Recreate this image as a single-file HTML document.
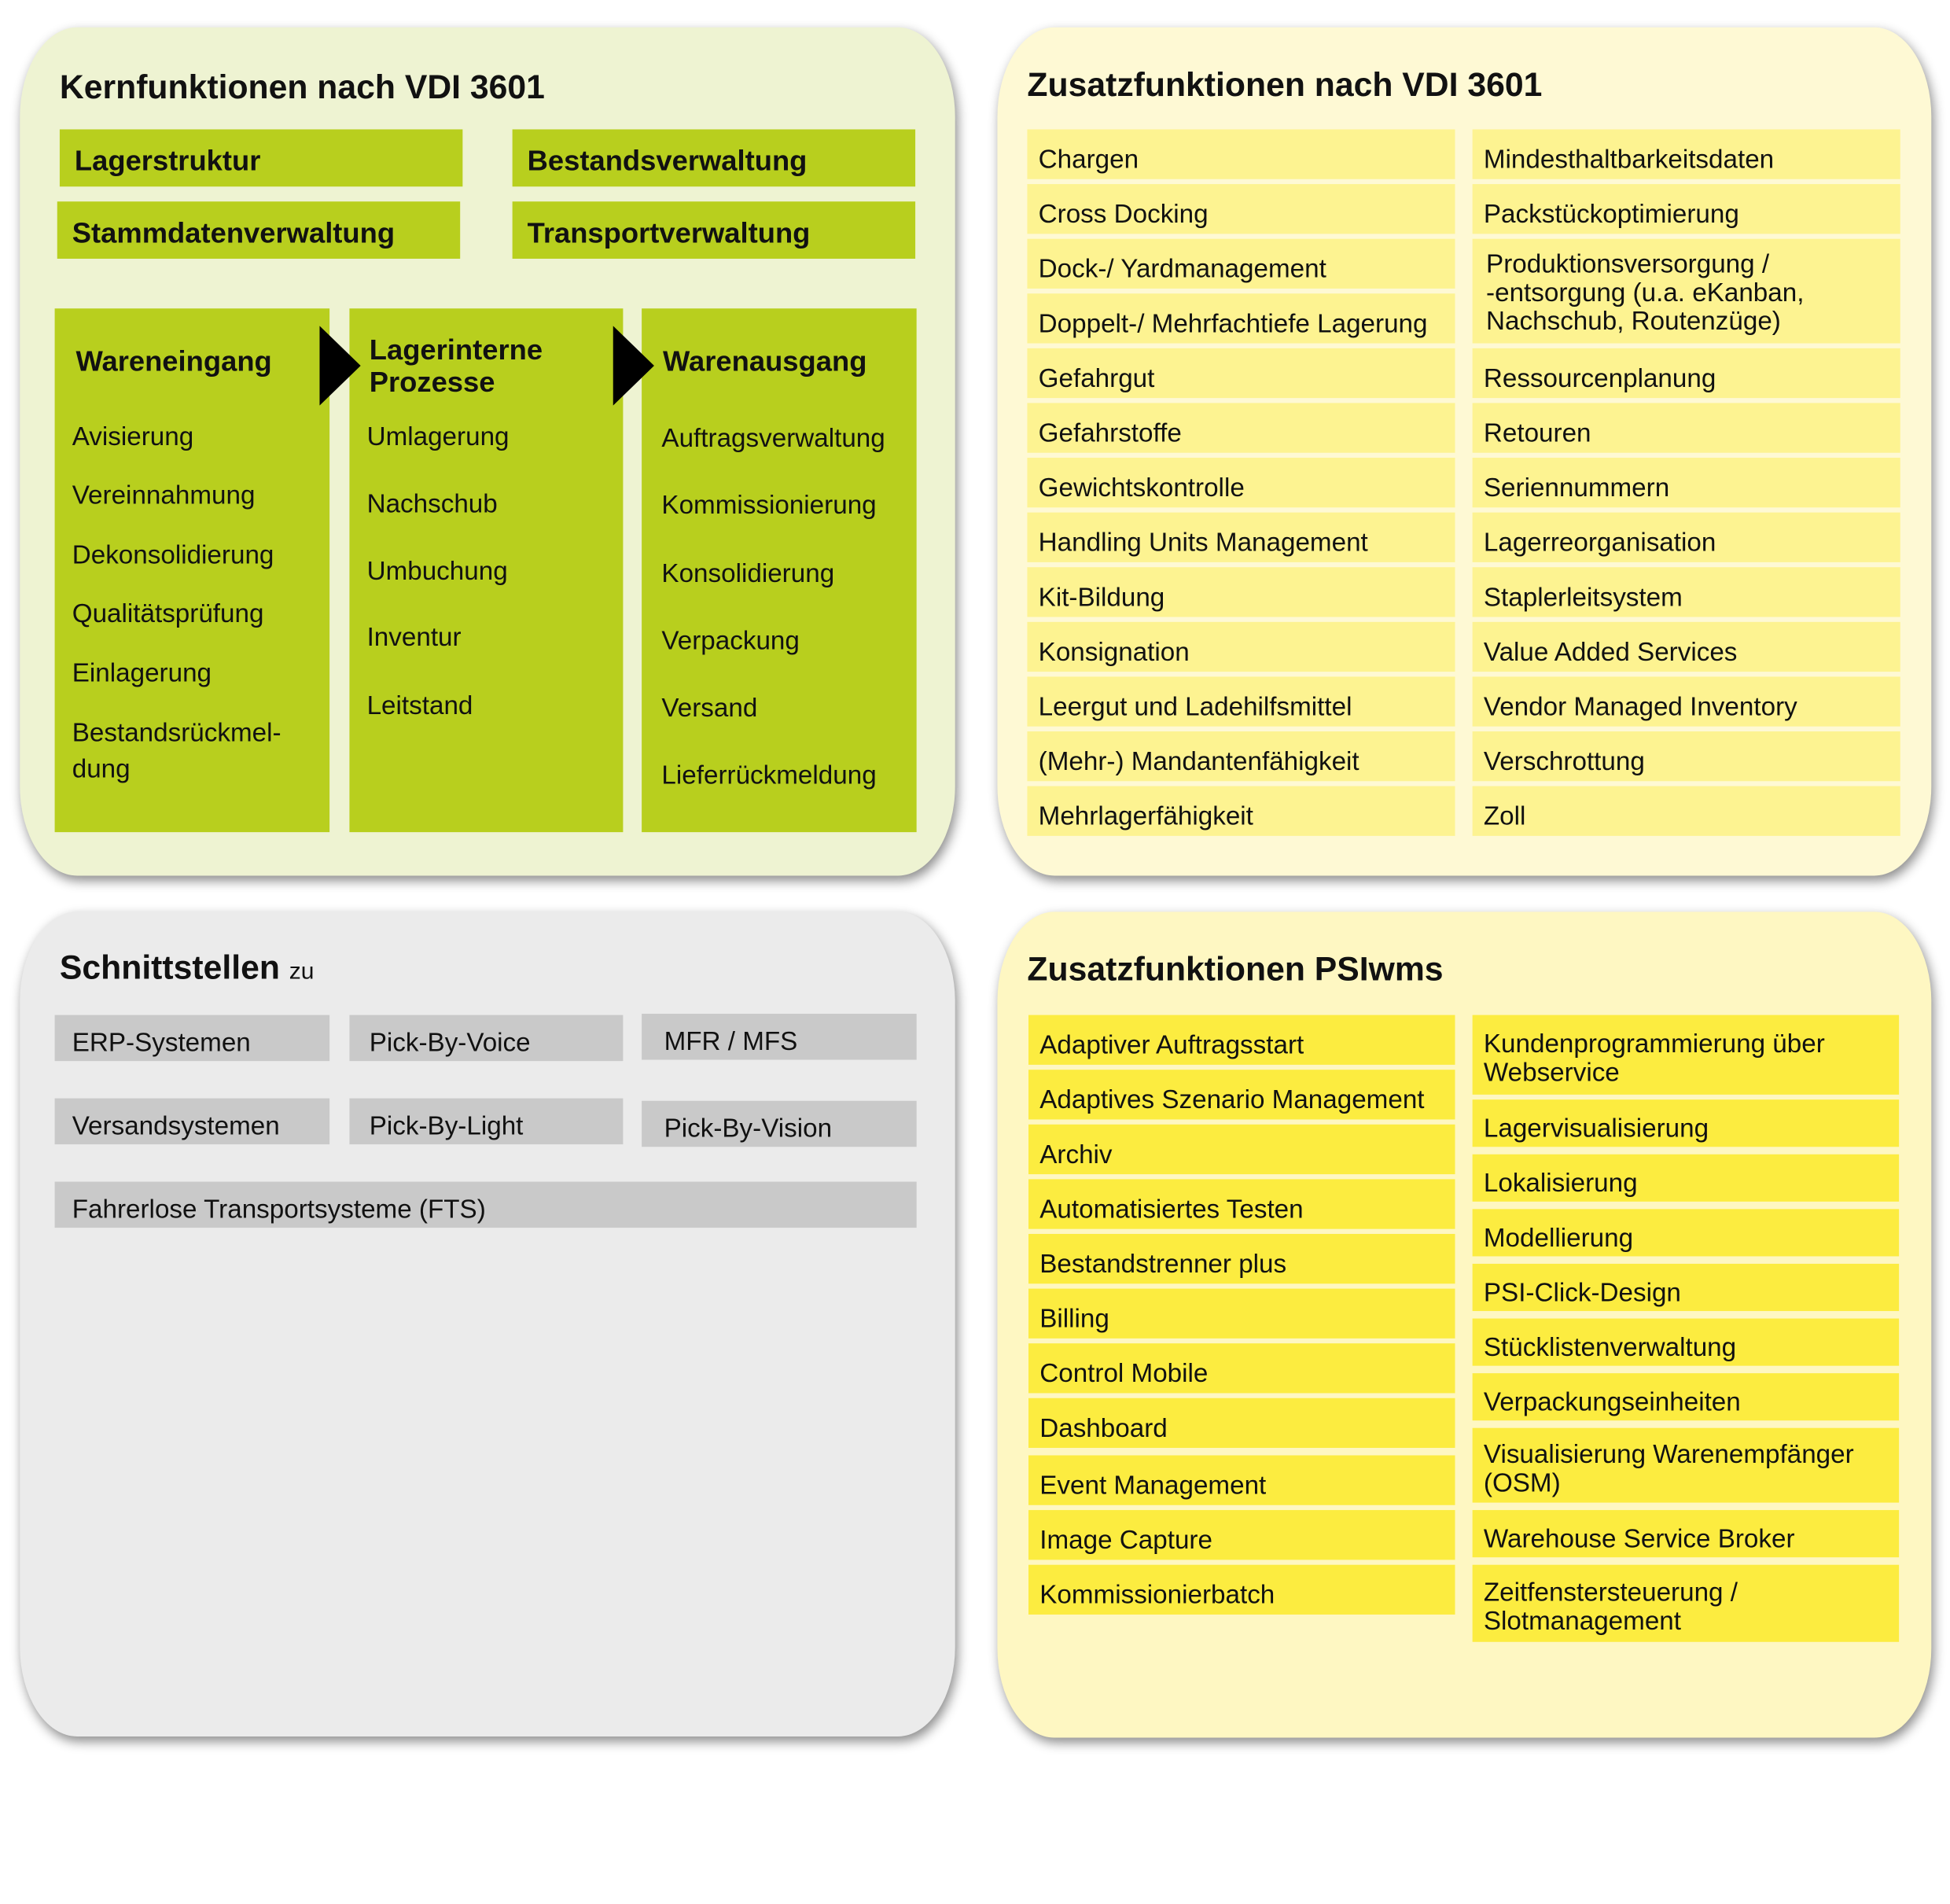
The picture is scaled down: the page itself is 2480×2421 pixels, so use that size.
<!DOCTYPE html>
<html><head><meta charset="utf-8"><style>
html,body{margin:0;padding:0;background:#fff;width:2480px;height:2421px;overflow:hidden}
#s{position:absolute;left:0;top:0;width:1568px;height:1531px;transform:scale(1.58163);transform-origin:0 0;font-family:"Liberation Sans",sans-serif;color:#111}
.p{position:absolute;border-radius:46px/72px;box-shadow:2px 4px 9px rgba(0,0,0,.45)}
.b{position:absolute;display:flex;align-items:center;box-sizing:border-box;padding-left:9px;padding-top:8px;font-size:21px;line-height:23px;white-space:nowrap}
.m{padding-top:2px}
.g{background:#b8cf1e;font-weight:bold;font-size:23px;padding-left:12px;padding-top:4px}
.y1{background:#fdf391}
.y2{background:#fcec40}
.gr{background:#c9c9c9;padding-left:14px}
.t{position:absolute;font-size:21px;line-height:23px;white-space:nowrap}
.h{position:absolute;font-size:27px;font-weight:bold;white-space:nowrap;line-height:30px}
.col{position:absolute;background:#b8cf1e;top:248px;height:421px}
.hb{font-weight:bold;font-size:23px}
.ar{position:absolute;width:0;height:0;border-top:32px solid transparent;border-bottom:32px solid transparent;border-left:33px solid #000}
</style></head><body><div id="s">
<!-- TL -->
<div class="p" style="left:16px;top:22px;width:752px;height:682px;background:#eef3d2"></div>
<div class="h" style="left:48px;top:55px">Kernfunktionen nach VDI 3601</div>
<div class="b g" style="left:48px;top:104px;width:324px;height:46px">Lagerstruktur</div>
<div class="b g" style="left:412px;top:104px;width:324px;height:46px">Bestandsverwaltung</div>
<div class="b g" style="left:46px;top:162px;width:324px;height:46px">Stammdatenverwaltung</div>
<div class="b g" style="left:412px;top:162px;width:324px;height:46px">Transportverwaltung</div>
<div class="col" style="left:44px;width:221px"></div>
<div class="col" style="left:281px;width:220px"></div>
<div class="col" style="left:516px;width:221px"></div>
<div class="ar" style="left:257px;top:262px"></div>
<div class="ar" style="left:493px;top:262px"></div>
<div class="t hb" style="left:61px;top:279px">Wareneingang</div>
<div class="t hb" style="left:297px;top:268px;line-height:26px">Lagerinterne<br>Prozesse</div>
<div class="t hb" style="left:533px;top:279px">Warenausgang</div>
<div class="t" style="left:58px;top:340px">Avisierung</div>
<div class="t" style="left:58px;top:387px">Vereinnahmung</div>
<div class="t" style="left:58px;top:435px">Dekonsolidierung</div>
<div class="t" style="left:58px;top:482px">Qualitätsprüfung</div>
<div class="t" style="left:58px;top:530px">Einlagerung</div>
<div class="t" style="left:58px;top:575px;line-height:29px">Bestandsrückmel-<br>dung</div>
<div class="t" style="left:295px;top:340px">Umlagerung</div>
<div class="t" style="left:295px;top:394px">Nachschub</div>
<div class="t" style="left:295px;top:448px">Umbuchung</div>
<div class="t" style="left:295px;top:501px">Inventur</div>
<div class="t" style="left:295px;top:556px">Leitstand</div>
<div class="t" style="left:532px;top:341px">Auftragsverwaltung</div>
<div class="t" style="left:532px;top:395px">Kommissionierung</div>
<div class="t" style="left:532px;top:450px">Konsolidierung</div>
<div class="t" style="left:532px;top:504px">Verpackung</div>
<div class="t" style="left:532px;top:558px">Versand</div>
<div class="t" style="left:532px;top:612px">Lieferrückmeldung</div>
<!-- TR -->
<div class="p" style="left:802px;top:22px;width:751px;height:682px;background:#fef9d4"></div>
<div class="h" style="left:826px;top:53px">Zusatzfunktionen nach VDI 3601</div>
<div class="b y1" style="left:826px;top:104px;width:344px;height:40px">Chargen</div>
<div class="b y1" style="left:826px;top:148px;width:344px;height:40px">Cross Docking</div>
<div class="b y1" style="left:826px;top:192px;width:344px;height:40px">Dock-/ Yardmanagement</div>
<div class="b y1" style="left:826px;top:236px;width:344px;height:40px">Doppelt-/ Mehrfachtiefe Lagerung</div>
<div class="b y1" style="left:826px;top:280px;width:344px;height:40px">Gefahrgut</div>
<div class="b y1" style="left:826px;top:324px;width:344px;height:40px">Gefahrstoffe</div>
<div class="b y1" style="left:826px;top:368px;width:344px;height:40px">Gewichtskontrolle</div>
<div class="b y1" style="left:826px;top:412px;width:344px;height:40px">Handling Units Management</div>
<div class="b y1" style="left:826px;top:456px;width:344px;height:40px">Kit-Bildung</div>
<div class="b y1" style="left:826px;top:500px;width:344px;height:40px">Konsignation</div>
<div class="b y1" style="left:826px;top:544px;width:344px;height:40px">Leergut und Ladehilfsmittel</div>
<div class="b y1" style="left:826px;top:588px;width:344px;height:40px">(Mehr-) Mandantenfähigkeit</div>
<div class="b y1" style="left:826px;top:632px;width:344px;height:40px">Mehrlagerfähigkeit</div>
<div class="b y1" style="left:1184px;top:104px;width:344px;height:40px">Mindesthaltbarkeitsdaten</div>
<div class="b y1" style="left:1184px;top:148px;width:344px;height:40px">Packstückoptimierung</div>
<div class="b y1 m" style="left:1184px;top:192px;width:344px;height:84px;padding-left:11px">Produktionsversorgung /<br>-entsorgung (u.a. eKanban,<br>Nachschub, Routenzüge)</div>
<div class="b y1" style="left:1184px;top:280px;width:344px;height:40px">Ressourcenplanung</div>
<div class="b y1" style="left:1184px;top:324px;width:344px;height:40px">Retouren</div>
<div class="b y1" style="left:1184px;top:368px;width:344px;height:40px">Seriennummern</div>
<div class="b y1" style="left:1184px;top:412px;width:344px;height:40px">Lagerreorganisation</div>
<div class="b y1" style="left:1184px;top:456px;width:344px;height:40px">Staplerleitsystem</div>
<div class="b y1" style="left:1184px;top:500px;width:344px;height:40px">Value Added Services</div>
<div class="b y1" style="left:1184px;top:544px;width:344px;height:40px">Vendor Managed Inventory</div>
<div class="b y1" style="left:1184px;top:588px;width:344px;height:40px">Verschrottung</div>
<div class="b y1" style="left:1184px;top:632px;width:344px;height:40px">Zoll</div>
<!-- BL -->
<div class="p" style="left:16px;top:733px;width:752px;height:663px;background:#ebebeb"></div>
<div class="h" style="left:48px;top:763px">Schnittstellen <span style="font-weight:normal;font-size:19px">zu</span></div>
<div class="b gr" style="left:44px;top:816px;width:221px;height:37px">ERP-Systemen</div>
<div class="b gr" style="left:281px;top:816px;width:220px;height:37px;padding-left:16px">Pick-By-Voice</div>
<div class="b gr" style="left:516px;top:815px;width:221px;height:37px;padding-left:18px">MFR / MFS</div>
<div class="b gr" style="left:44px;top:883px;width:221px;height:37px">Versandsystemen</div>
<div class="b gr" style="left:281px;top:883px;width:220px;height:37px;padding-left:16px">Pick-By-Light</div>
<div class="b gr" style="left:516px;top:885px;width:221px;height:37px;padding-left:18px">Pick-By-Vision</div>
<div class="b gr" style="left:44px;top:950px;width:693px;height:37px">Fahrerlose Transportsysteme (FTS)</div>
<!-- BR -->
<div class="p" style="left:802px;top:733px;width:751px;height:664px;background:#fef7c2"></div>
<div class="h" style="left:826px;top:764px">Zusatzfunktionen PSIwms</div>
<div class="b y2" style="left:827px;top:816px;width:343px;height:40px">Adaptiver Auftragsstart</div>
<div class="b y2" style="left:827px;top:860px;width:343px;height:40px">Adaptives Szenario Management</div>
<div class="b y2" style="left:827px;top:904px;width:343px;height:40px">Archiv</div>
<div class="b y2" style="left:827px;top:948px;width:343px;height:40px">Automatisiertes Testen</div>
<div class="b y2" style="left:827px;top:992px;width:343px;height:40px">Bestandstrenner plus</div>
<div class="b y2" style="left:827px;top:1036px;width:343px;height:40px">Billing</div>
<div class="b y2" style="left:827px;top:1080px;width:343px;height:40px">Control Mobile</div>
<div class="b y2" style="left:827px;top:1124px;width:343px;height:40px">Dashboard</div>
<div class="b y2" style="left:827px;top:1170px;width:343px;height:40px">Event Management</div>
<div class="b y2" style="left:827px;top:1214px;width:343px;height:40px">Image Capture</div>
<div class="b y2" style="left:827px;top:1258px;width:343px;height:40px">Kommissionierbatch</div>
<div class="b y2 m" style="left:1184px;top:816px;width:343px;height:64px;padding-top:6px">Kundenprogrammierung über<br>Webservice</div>
<div class="b y2" style="left:1184px;top:884px;width:343px;height:38px">Lagervisualisierung</div>
<div class="b y2" style="left:1184px;top:928px;width:343px;height:38px">Lokalisierung</div>
<div class="b y2" style="left:1184px;top:972px;width:343px;height:38px">Modellierung</div>
<div class="b y2" style="left:1184px;top:1016px;width:343px;height:38px">PSI-Click-Design</div>
<div class="b y2" style="left:1184px;top:1060px;width:343px;height:38px">Stücklistenverwaltung</div>
<div class="b y2" style="left:1184px;top:1104px;width:343px;height:38px">Verpackungseinheiten</div>
<div class="b y2 m" style="left:1184px;top:1148px;width:343px;height:60px;padding-top:6px">Visualisierung Warenempfänger<br>(OSM)</div>
<div class="b y2" style="left:1184px;top:1214px;width:343px;height:38px">Warehouse Service Broker</div>
<div class="b y2 m" style="left:1184px;top:1258px;width:343px;height:62px;padding-top:6px">Zeitfenstersteuerung /<br>Slotmanagement</div>
</div></body></html>
